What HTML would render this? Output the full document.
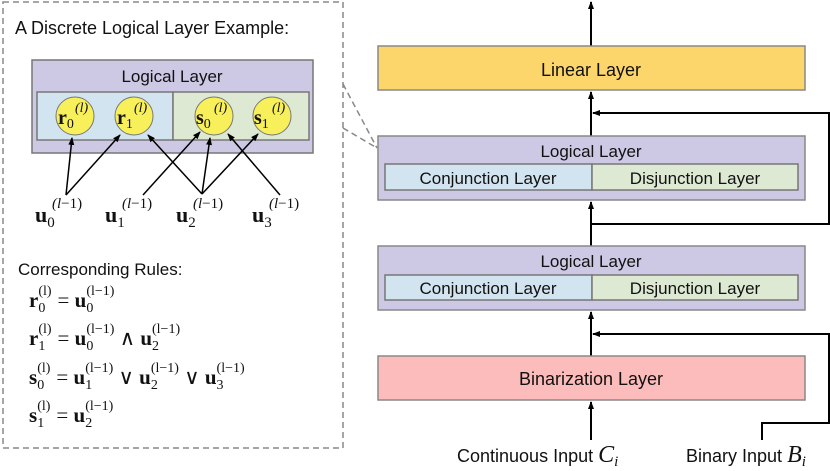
<!DOCTYPE html>
<html><head><meta charset="utf-8"><style>
body{margin:0;background:#fff}
svg{display:block}
text{font-family:"Liberation Sans",sans-serif;fill:#111}
.m{font-family:"Liberation Serif",serif}
</style></head><body>
<svg width="830" height="471" viewBox="0 0 830 471" xmlns="http://www.w3.org/2000/svg">
<defs><marker id="a" markerWidth="8" markerHeight="8" refX="7" refY="4" orient="auto" markerUnits="userSpaceOnUse"><path d="M0,1 L8,4 L0,7 z" fill="#000"/></marker></defs>
<rect x="3" y="2" width="340" height="446" fill="none" stroke="#888" stroke-width="1.5" stroke-dasharray="6,4"/>
<line x1="343" y1="84" x2="377" y2="148" stroke="#888" stroke-width="1.5" stroke-dasharray="6,4"/>
<line x1="343" y1="128" x2="377" y2="148" stroke="#888" stroke-width="1.5" stroke-dasharray="6,4"/>
<text x="15" y="34" font-size="18">A Discrete Logical Layer Example:</text>
<rect x="32" y="60" width="281" height="93" fill="#cdc8e4" stroke="#777" stroke-width="1.5"/>
<text x="172" y="82" font-size="17" text-anchor="middle">Logical Layer</text>
<rect x="37" y="92" width="136" height="48" fill="#d3e4f1" stroke="#777" stroke-width="1.5"/>
<rect x="173" y="92" width="136" height="48" fill="#dde9d3" stroke="#777" stroke-width="1.5"/>
<g fill="#f8f05a" stroke="#777" stroke-width="1">
<circle cx="75" cy="116" r="19"/><circle cx="134" cy="116" r="19"/><circle cx="214" cy="116" r="19"/><circle cx="272" cy="116" r="19"/></g>
<g font-weight="bold" font-size="20">
<text x="58" y="124" class="m">r<tspan font-size="14" font-weight="normal" dy="4">0</tspan></text>
<text x="117" y="124" class="m">r<tspan font-size="14" font-weight="normal" dy="4">1</tspan></text>
<text x="196" y="124" class="m">s<tspan font-size="14" font-weight="normal" dy="4">0</tspan></text>
<text x="254" y="124" class="m">s<tspan font-size="14" font-weight="normal" dy="4">1</tspan></text></g>
<g font-size="14" font-style="italic"><text x="75" y="112" class="m">(l)</text><text x="134" y="112" class="m">(l)</text><text x="214" y="112" class="m">(l)</text><text x="272" y="112" class="m">(l)</text></g>
<g stroke="#000" stroke-width="1.5" marker-end="url(#a)">
<line x1="66" y1="195" x2="72" y2="138"/><line x1="66" y1="195" x2="120" y2="135"/>
<line x1="143" y1="195" x2="200" y2="132"/><line x1="202" y1="194" x2="148" y2="135"/>
<line x1="202" y1="194" x2="210" y2="138"/><line x1="202" y1="194" x2="258" y2="134"/>
<line x1="280" y1="195" x2="228" y2="134"/></g>
<g font-size="22" font-weight="bold">
<text x="35" y="222" class="m">u<tspan font-size="15" font-weight="normal" dy="5">0</tspan></text>
<text x="105" y="222" class="m">u<tspan font-size="15" font-weight="normal" dy="5">1</tspan></text>
<text x="176" y="222" class="m">u<tspan font-size="15" font-weight="normal" dy="5">2</tspan></text>
<text x="252" y="222" class="m">u<tspan font-size="15" font-weight="normal" dy="5">3</tspan></text></g>
<g font-size="15"><text x="52" y="208" class="m"><tspan font-style="italic">(l</tspan>−1)</text><text x="122" y="208" class="m"><tspan font-style="italic">(l</tspan>−1)</text><text x="193" y="208" class="m"><tspan font-style="italic">(l</tspan>−1)</text><text x="269" y="208" class="m"><tspan font-style="italic">(l</tspan>−1)</text></g>
<text x="18" y="275" font-size="17">Corresponding Rules:</text>
<g font-size="21">
<text x="29" y="307" class="m"><tspan font-weight="bold">r</tspan><tspan font-size="14" dy="5">0</tspan><tspan font-size="14" dx="-7" dy="-17">(l)</tspan><tspan dy="12" dx="6">= </tspan><tspan font-weight="bold">u</tspan><tspan font-size="14" dy="5">0</tspan><tspan font-size="14" dx="-7" dy="-17">(l−1)</tspan></text>
<text x="29" y="345" class="m"><tspan font-weight="bold">r</tspan><tspan font-size="14" dy="5">1</tspan><tspan font-size="14" dx="-7" dy="-17">(l)</tspan><tspan dy="12" dx="6">= </tspan><tspan font-weight="bold">u</tspan><tspan font-size="14" dy="5">0</tspan><tspan font-size="14" dx="-7" dy="-17">(l−1)</tspan><tspan dy="12"> ∧ </tspan><tspan font-weight="bold">u</tspan><tspan font-size="14" dy="5">2</tspan><tspan font-size="14" dx="-7" dy="-17">(l−1)</tspan></text>
<text x="29" y="384" class="m"><tspan font-weight="bold">s</tspan><tspan font-size="14" dy="5">0</tspan><tspan font-size="14" dx="-7" dy="-17">(l)</tspan><tspan dy="12" dx="6">= </tspan><tspan font-weight="bold">u</tspan><tspan font-size="14" dy="5">1</tspan><tspan font-size="14" dx="-7" dy="-17">(l−1)</tspan><tspan dy="12"> ∨ </tspan><tspan font-weight="bold">u</tspan><tspan font-size="14" dy="5">2</tspan><tspan font-size="14" dx="-7" dy="-17">(l−1)</tspan><tspan dy="12"> ∨ </tspan><tspan font-weight="bold">u</tspan><tspan font-size="14" dy="5">3</tspan><tspan font-size="14" dx="-7" dy="-17">(l−1)</tspan></text>
<text x="29" y="422" class="m"><tspan font-weight="bold">s</tspan><tspan font-size="14" dy="5">1</tspan><tspan font-size="14" dx="-7" dy="-17">(l)</tspan><tspan dy="12" dx="6">= </tspan><tspan font-weight="bold">u</tspan><tspan font-size="14" dy="5">2</tspan><tspan font-size="14" dx="-7" dy="-17">(l−1)</tspan></text>
</g>
<g stroke="#000" stroke-width="2" fill="none">
<line x1="591" y1="46" x2="591" y2="2" marker-end="url(#a)"/>
<line x1="591" y1="136" x2="591" y2="92" marker-end="url(#a)"/>
<line x1="591" y1="246" x2="591" y2="202" marker-end="url(#a)"/>
<line x1="591" y1="356" x2="591" y2="312" marker-end="url(#a)"/>
<line x1="591" y1="440" x2="591" y2="402" marker-end="url(#a)"/>
<polyline points="591,224 829,224 829,113 593,113" marker-end="url(#a)"/>
<polyline points="762,440 762,423 829,423 829,334 593,334" marker-end="url(#a)"/>
</g>
<rect x="378" y="46" width="427" height="44" fill="#fdd66b" stroke="#888" stroke-width="1.5"/>
<text x="591" y="76" font-size="18" text-anchor="middle">Linear Layer</text>
<rect x="378" y="136" width="427" height="64" fill="#cdc8e4" stroke="#888" stroke-width="1.5"/>
<text x="591" y="157" font-size="17" text-anchor="middle">Logical Layer</text>
<rect x="385" y="164" width="207" height="26" fill="#d3e4f1" stroke="#777" stroke-width="1.5"/>
<rect x="592" y="164" width="206" height="26" fill="#dde9d3" stroke="#777" stroke-width="1.5"/>
<text x="488" y="184" font-size="17" text-anchor="middle">Conjunction Layer</text>
<text x="695" y="184" font-size="17" text-anchor="middle">Disjunction Layer</text>
<rect x="378" y="246" width="427" height="64" fill="#cdc8e4" stroke="#888" stroke-width="1.5"/>
<text x="591" y="267" font-size="17" text-anchor="middle">Logical Layer</text>
<rect x="385" y="275" width="207" height="25" fill="#d3e4f1" stroke="#777" stroke-width="1.5"/>
<rect x="592" y="275" width="206" height="25" fill="#dde9d3" stroke="#777" stroke-width="1.5"/>
<text x="488" y="294" font-size="17" text-anchor="middle">Conjunction Layer</text>
<text x="695" y="294" font-size="17" text-anchor="middle">Disjunction Layer</text>
<rect x="378" y="356" width="427" height="44" fill="#fdbcbc" stroke="#888" stroke-width="1.5"/>
<text x="591" y="385" font-size="18" text-anchor="middle">Binarization Layer</text>
<text x="457" y="462" font-size="18">Continuous Input <tspan class="m" font-style="italic" font-size="24">C</tspan><tspan class="m" font-style="italic" font-size="15" dy="4">i</tspan></text>
<text x="686" y="462" font-size="18">Binary Input <tspan class="m" font-style="italic" font-size="24">B</tspan><tspan class="m" font-style="italic" font-size="15" dy="4">i</tspan></text>
</svg>
</body></html>
